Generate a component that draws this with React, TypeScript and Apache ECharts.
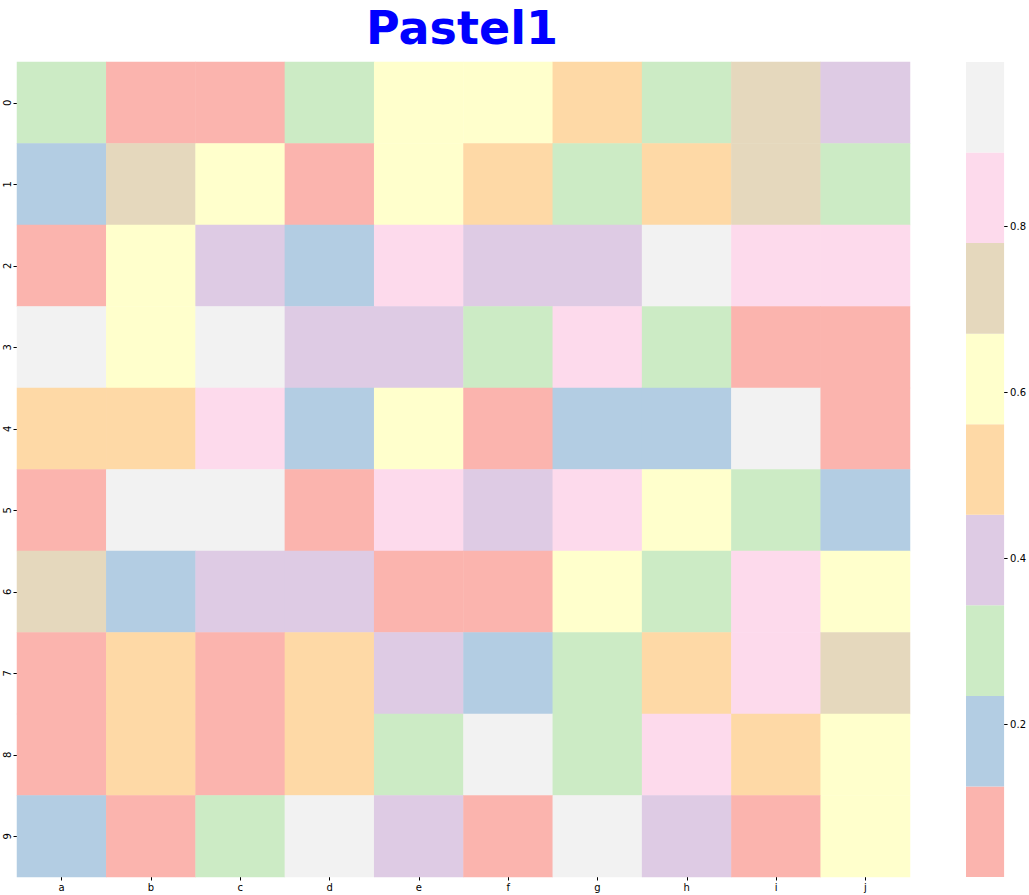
import React, { useEffect, useRef } from "react";
import * as echarts from "echarts";

const cols = ["a", "b", "c", "d", "e", "f", "g", "h", "i", "j"];
const rows = ["0", "1", "2", "3", "4", "5", "6", "7", "8", "9"];

const row0 = [0.30, 0.05, 0.09, 0.27, 0.60, 0.64, 0.50, 0.25, 0.73, 0.41];
const row1 = [0.17, 0.70, 0.63, 0.08, 0.58, 0.47, 0.31, 0.53, 0.75, 0.28];
const row2 = [0.11, 0.66, 0.37, 0.20, 0.85, 0.44, 0.39, 0.92, 0.81, 0.86];
const row3 = [0.97, 0.59, 0.95, 0.42, 0.36, 0.26, 0.84, 0.32, 0.04, 0.10];
const row4 = [0.49, 0.55, 0.80, 0.14, 0.61, 0.06, 0.22, 0.19, 0.998, 0.03];
const row5 = [0.115, 0.90, 0.93, 0.07, 0.87, 0.38, 0.82, 0.65, 0.26, 0.16];
const row6 = [0.69, 0.21, 0.43, 0.36, 0.02, 0.09, 0.59, 0.33, 0.86, 0.62];
const row7 = [0.05, 0.52, 0.016, 0.48, 0.40, 0.15, 0.29, 0.53, 0.80, 0.71];
const row8 = [0.08, 0.48, 0.11, 0.54, 0.30, 0.96, 0.27, 0.83, 0.50, 0.64];
const row9 = [0.20, 0.06, 0.31, 0.91, 0.43, 0.10, 0.94, 0.37, 0.03, 0.60];
const matrix = [row0, row1, row2, row3, row4, row5, row6, row7, row8, row9];

const pastel1 = [
  "#fbb4ae", "#b3cde3", "#ccebc5", "#decbe4", "#fed9a6",
  "#ffffcc", "#e5d8bd", "#fddaec", "#f2f2f2",
];
const colorbarTicks = [0.2, 0.4, 0.6, 0.8];

export default function App() {
  const ref = useRef<HTMLDivElement>(null);
  useEffect(() => {
    if (!ref.current) return;
    const chart = echarts.init(ref.current, undefined, { renderer: "svg" });
    const all = matrix.flat();
    const vmin = Math.min(...all);
    const vmax = Math.max(...all);
    const step = (vmax - vmin) / pastel1.length;
    const pieces = pastel1.map((c, i) => {
      const p: any = { color: c, gte: vmin + i * step };
      if (i === pastel1.length - 1) p.lte = vmax + 1e-9;
      else p.lt = vmin + (i + 1) * step;
      return p;
    });
    const data: any[] = [];
    matrix.forEach((r, ri) => r.forEach((v, ci) => data.push([ci, ri, v])));

    const barSeries = pastel1.map((c, i) => ({
      type: "bar",
      xAxisIndex: 1,
      yAxisIndex: 1,
      stack: "cb",
      barWidth: "100%",
      clip: true,
      itemStyle: { color: c },
      data: [i === 0 ? vmin + step : step],
      silent: true,
    }));

    const labelStyle = { color: "#000", fontSize: 10, fontFamily: "DejaVu Sans" };

    chart.setOption({
      animation: false,
      graphic: [
        {
          type: "text",
          x: 462,
          y: 28,
          style: {
            text: "Pastel1",
            fill: "#0000ff",
            font: 'bold 46px "Comic Sans MS", "DejaVu Sans", sans-serif',
            textAlign: "center",
            textVerticalAlign: "middle",
          },
        },
      ],
      visualMap: {
        type: "piecewise",
        show: false,
        seriesIndex: 0,
        dimension: 2,
        pieces,
      },
      grid: [
        { left: 17, top: 62, width: 893, height: 815 },
        { left: 966, top: 62, width: 40, height: 815 },
      ],
      xAxis: [
        {
          type: "category",
          gridIndex: 0,
          data: cols,
          position: "bottom",
          axisLine: { show: false },
          axisTick: { show: true, alignWithLabel: true, length: 3.5, lineStyle: { color: "#000" } },
          axisLabel: { ...labelStyle, margin: 5 },
          splitLine: { show: false },
        },
        {
          type: "category",
          gridIndex: 1,
          data: ["cb"],
          show: false,
        },
      ],
      yAxis: [
        {
          type: "category",
          gridIndex: 0,
          data: rows,
          inverse: true,
          axisLine: { show: false },
          axisTick: { show: true, alignWithLabel: true, length: 3.5, lineStyle: { color: "#000" } },
          axisLabel: { ...labelStyle, rotate: 90, margin: 5 },
          splitLine: { show: false },
        },
        {
          type: "value",
          gridIndex: 1,
          position: "right",
          min: vmin,
          max: vmax,
          axisLine: { show: false },
          axisTick: {
            show: true,
            length: 3.5,
            lineStyle: { color: "#000" },
            customValues: colorbarTicks,
          },
          axisLabel: {
            ...labelStyle,
            margin: 6,
            customValues: colorbarTicks,
            formatter: (v: number) => v.toFixed(1),
          },
          splitLine: { show: false },
        },
      ],
      series: [
        {
          type: "heatmap",
          xAxisIndex: 0,
          yAxisIndex: 0,
          data,
          itemStyle: { borderWidth: 0 },
          emphasis: { disabled: true },
        },
        ...barSeries,
      ],
    });
    return () => chart.dispose();
  }, []);
  return (
    <div
      ref={ref}
      style={{ position: "absolute", left: 0, top: 0, width: 1029, height: 895, background: "#fff" }}
    />
  );
}
